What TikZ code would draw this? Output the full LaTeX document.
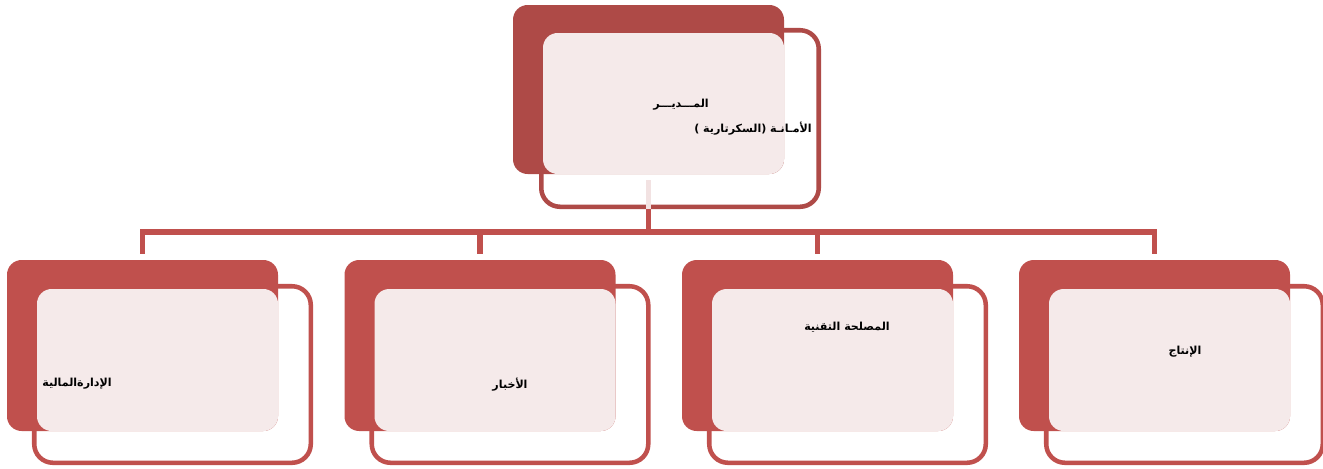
\documentclass[tikz,border=0pt]{standalone}
\usepackage{fontspec}
\newfontfamily\arabicfont[Script=Arabic]{DejaVu Sans}
\TeXXeTstate=1
\definecolor{topdark}{HTML}{AE4A47}
\definecolor{reddark}{HTML}{C0504D}
\definecolor{pinkfill}{HTML}{F5EAEA}
\definecolor{pinkline}{HTML}{F2E2E2}
\tikzset{
  backbox/.style={rectangle, rounded corners=11pt, fill=#1, draw=none, inner sep=0pt},
  framebox/.style={rectangle, rounded corners=14pt, fill=white, draw=#1, line width=3.4pt, inner sep=0pt},
  pinkbox/.style={rectangle, rounded corners=11pt, fill=pinkfill, draw=none, inner sep=0pt},
  lbl/.style={inner sep=0pt, font=\arabicfont\bfseries\fontsize{8.3}{10}\selectfont},
  conn/.style={draw=reddark, line width=3.9pt},
}
\begin{document}
\begin{tikzpicture}[x=0.75pt, y=-0.75pt]
\useasboundingbox (0,0) rectangle (1323,468);
% top unit
\node[framebox=topdark, minimum width=208.1pt, minimum height=132.4pt] (tf) at (680,118.5) {};
\node[backbox=topdark, minimum width=203.25pt, minimum height=126.75pt] (tb) at (648.5,89.5) {};
\node[pinkbox, minimum width=180.75pt, minimum height=105.75pt] (tp) at (663.5,103.5) {};
\node[lbl] (t1) at (681,105) {\beginR المـــديـــر\endR};
\node[lbl] (t2) at (753,129) {\beginR الأمـانـة (السكرتارية )\endR};
% bottom units
\foreach \i/\dx in {1/0, 2/337.5, 3/675, 4/1012}{
  \node[framebox=reddark, minimum width=207.4pt, minimum height=132.4pt] (f\i) at (172.5+\dx,374.5) {};
  \node[backbox=reddark, minimum width=203.25pt, minimum height=128.25pt] (b\i) at (142.5+\dx,345.5) {};
  \node[pinkbox, minimum width=180.75pt, minimum height=106.5pt] (p\i) at (157.5+\dx,360) {};
}
\node[lbl] (l1) at (77,384) {\beginR الإدارةالمالية\endR};
\node[lbl] (l2) at (510,385) {\beginR الأخبار\endR};
\node[lbl] (l3) at (847,327) {\beginR المصلحة التقنية\endR};
\node[lbl] (l4) at (1185,352) {\beginR الإنتاج\endR};
% connectors
\coordinate (hub) at (648.5,232);
\draw[draw=pinkline, line width=3.9pt] ([yshift=-4.5pt]tb.south) -- (tb.south |- tf.south);
\draw[conn] (tb.south |- tf.south) -- (hub);
\draw[conn, line join=miter] ([yshift=4.5pt]b1.north) |- (hub) -| ([yshift=4.5pt]b4.north);
\draw[conn] (b2.north |- hub) -- ([yshift=4.5pt]b2.north);
\draw[conn] (b3.north |- hub) -- ([yshift=4.5pt]b3.north);
\end{tikzpicture}
\end{document}
